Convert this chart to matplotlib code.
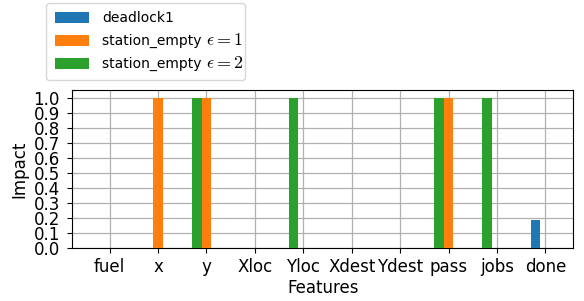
#!/usr/bin/env python3
"""Grouped bar chart of feature impact for deadlock / station_empty properties."""

import matplotlib

matplotlib.use("Agg")
import matplotlib.pyplot as plt
import numpy as np

plt.rcParams["mathtext.fontset"] = "cm"

features = ["fuel", "x", "y", "Xloc", "Yloc", "Xdest", "Ydest", "pass", "jobs", "done"]
deadlock1 = [0, 0, 0, 0, 0, 0, 0, 0, 0, 0.19]
station_empty_eps1 = [0, 1, 1, 0, 0, 0, 0, 1, 0, 0]
station_empty_eps2 = [0, 0, 1, 0, 1, 0, 0, 1, 1, 0]
eps_labels = [None, r"$\epsilon = 1$", r"$\epsilon = 2$"]

pos = np.arange(len(features))
width = 0.2

fig, ax = plt.subplots(figsize=(5.84, 3.01), dpi=100)
fig.subplots_adjust(left=0.124, right=0.981, top=0.70, bottom=0.175)

# room after "station_empty" is reserved with em spaces, the epsilon part is drawn on top
pad = "\u2003\u2003\u2002"
ax.bar(pos - width, deadlock1, width, label="deadlock1", zorder=3)
ax.bar(pos, station_empty_eps1, width, label="station_empty" + pad, zorder=3)
ax.bar(pos - width, station_empty_eps2, width, label="station_empty" + pad, zorder=3)

ax.set_xticks(pos)
ax.set_xticklabels(features, fontsize=12)
ax.set_yticks(np.arange(0, 1.01, 0.1))
ax.tick_params(axis="y", labelsize=12, pad=5.5)
ax.set_xlabel("Features", fontsize=12, labelpad=2)
ax.set_ylabel("Impact", fontsize=12)
ax.grid(True, color="#b0b0b0", linewidth=0.9, zorder=0)

leg = ax.legend(loc="lower left", bbox_to_anchor=(-0.052, 1.068), fontsize=10,
                handlelength=2.5, handleheight=0.85, handletextpad=0.9,
                labelspacing=0.64, borderpad=0.6, borderaxespad=0)

renderer = fig.canvas.get_renderer()
for text, eps in zip(leg.get_texts(), eps_labels):
    if eps is None:
        continue
    w, _, _ = renderer.get_text_width_height_descent("station_empty", text.get_fontproperties(), ismath=False)
    _, _, d_lp = renderer.get_text_width_height_descent("lp", text.get_fontproperties(), ismath=False)
    ax.annotate(eps, xy=(0, 0), xycoords=text,
                xytext=((w + 5) * 72 / fig.dpi, d_lp * 72 / fig.dpi), textcoords="offset points",
                va="baseline", ha="left", fontsize=13, zorder=10, annotation_clip=False)

fig.savefig("out.png", dpi=100)
